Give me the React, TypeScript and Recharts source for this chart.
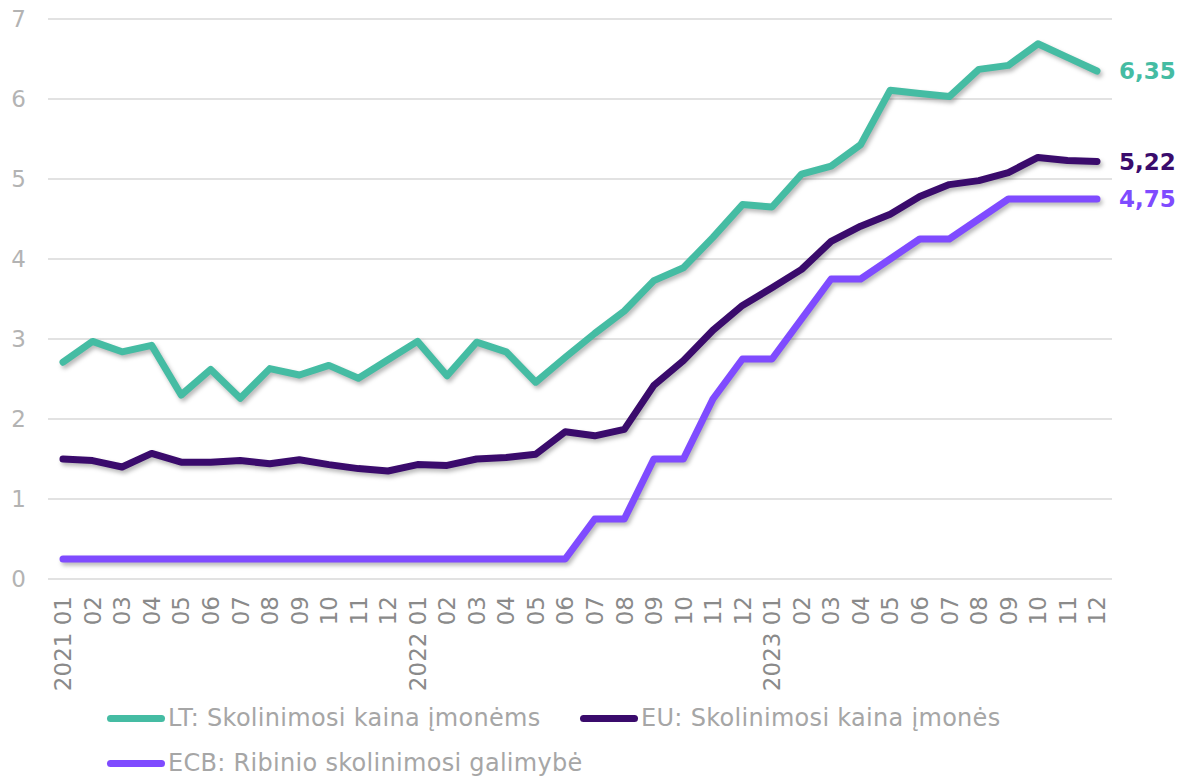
import { LineChart, Line, XAxis, YAxis, CartesianGrid, Legend } from "recharts";

const months = [
  "2021 01", "02", "03", "04", "05", "06", "07", "08", "09", "10", "11", "12",
  "2022 01", "02", "03", "04", "05", "06", "07", "08", "09", "10", "11", "12",
  "2023 01", "02", "03", "04", "05", "06", "07", "08", "09", "10", "11", "12",
];

// LT: Skolinimosi kaina įmonėms
const ltValues = [
  2.71, 2.97, 2.84, 2.92, 2.3, 2.62, 2.26, 2.63, 2.55, 2.67, 2.51, 2.74,
  2.97, 2.54, 2.96, 2.84, 2.46, 2.77, 3.07, 3.35, 3.73, 3.89, 4.27, 4.68,
  4.65, 5.06, 5.16, 5.43, 6.11, 6.07, 6.03, 6.37, 6.42, 6.69, 6.52, 6.35,
];

// EU: Skolinimosi kaina įmonės
const euValues = [
  1.5, 1.48, 1.4, 1.57, 1.46, 1.46, 1.48, 1.44, 1.49, 1.43, 1.38, 1.35,
  1.43, 1.42, 1.5, 1.52, 1.56, 1.84, 1.79, 1.87, 2.42, 2.73, 3.11, 3.42,
  3.64, 3.87, 4.22, 4.41, 4.56, 4.78, 4.93, 4.98, 5.08, 5.27, 5.23, 5.22,
];

// ECB: Ribinio skolinimosi galimybė
const ecbValues = [
  0.25, 0.25, 0.25, 0.25, 0.25, 0.25, 0.25, 0.25, 0.25, 0.25, 0.25, 0.25,
  0.25, 0.25, 0.25, 0.25, 0.25, 0.25, 0.75, 0.75, 1.5, 1.5, 2.25, 2.75,
  2.75, 3.25, 3.75, 3.75, 4.0, 4.25, 4.25, 4.5, 4.75, 4.75, 4.75, 4.75,
];

const yTicks = [0, 1, 2, 3, 4, 5, 6, 7];

const series = [
  { key: "lt", name: "LT: Skolinimosi kaina įmonėms", color: "#45bca3" },
  { key: "eu", name: "EU: Skolinimosi kaina įmonės", color: "#3a0b6c" },
  { key: "ecb", name: "ECB: Ribinio skolinimosi galimybė", color: "#7f4bff" },
];

const data = months.map((m, i) => ({
  month: m,
  lt: ltValues[i],
  eu: euValues[i],
  ecb: ecbValues[i],
}));

const FONT = "'DejaVu Sans', Verdana, sans-serif";
const lastIndex = months.length - 1;

function MonthTick({ x, y, payload }: any) {
  return (
    <text
      x={x}
      y={y}
      transform={`rotate(-90, ${x}, ${y})`}
      textAnchor="end"
      dy="0.36em"
      fill="#8a8a8a"
      fontSize={23}
      fontFamily={FONT}
    >
      {payload.value}
    </text>
  );
}

function endLabel(color: string) {
  return (props: any) => {
    const { x, y, index, value } = props;
    if (index !== lastIndex) return null;
    return (
      <text
        x={x + 22}
        y={y}
        dy="0.36em"
        fill={color}
        fontSize={23}
        fontWeight="bold"
        fontFamily={FONT}
      >
        {value.toFixed(2).replace(".", ",")}
      </text>
    );
  };
}

// legend item placement (rows like the original)
const legendPos = [
  { left: 107, top: 19 },
  { left: 580, top: 19 },
  { left: 107, top: 64 },
];

function CustomLegend() {
  return (
    <div style={{ position: "relative", width: 1181, height: 77 }}>
      {series.map((s, i) => (
        <div
          key={s.key}
          style={{
            position: "absolute",
            left: legendPos[i].left,
            top: legendPos[i].top,
            transform: "translateY(-50%)",
            display: "flex",
            alignItems: "center",
            whiteSpace: "nowrap",
          }}
        >
          <span
            style={{
              display: "inline-block",
              width: 58,
              height: 7,
              borderRadius: 4,
              background: s.color,
              marginRight: 3,
            }}
          />
          <span
            style={{
              color: "#a6a6a6",
              fontSize: 24,
              fontFamily: FONT,
              letterSpacing: 0.3,
            }}
          >
            {s.name}
          </span>
        </div>
      ))}
    </div>
  );
}

export default function App() {
  return (
    <div style={{ width: 1181, height: 776, background: "#fff" }}>
      <style>{`
        body { margin: 0; }
        .recharts-line-curve { filter: drop-shadow(2px 3px 2px rgba(0,0,0,0.28)); }
      `}</style>
      <LineChart
        width={1181}
        height={776}
        data={data}
        margin={{ top: 19, right: 69, left: 0, bottom: 0 }}
      >
        <CartesianGrid vertical={false} stroke="#d9d9d9" strokeWidth={1.5} />
        <XAxis
          dataKey="month"
          interval={0}
          height={120}
          padding={{ left: 15, right: 15 }}
          axisLine={false}
          tickLine={false}
          tickSize={0}
          tickMargin={17}
          tick={<MonthTick />}
        />
        <YAxis
          width={48}
          domain={[0, 7]}
          ticks={yTicks}
          axisLine={false}
          tickLine={false}
          tickSize={0}
          tickMargin={22}
          tick={{ fill: "#b3b3b3", fontSize: 23, fontFamily: FONT }}
        />
        <Legend
          verticalAlign="bottom"
          height={77}
          wrapperStyle={{ left: 0, width: 1181 }}
          content={<CustomLegend />}
        />
        {series.map((s) => (
          <Line
            key={s.key}
            type="linear"
            dataKey={s.key}
            name={s.name}
            stroke={s.color}
            strokeWidth={7}
            strokeLinecap="round"
            strokeLinejoin="round"
            dot={false}
            activeDot={false}
            isAnimationActive={false}
            label={endLabel(s.color)}
          />
        ))}
      </LineChart>
    </div>
  );
}
